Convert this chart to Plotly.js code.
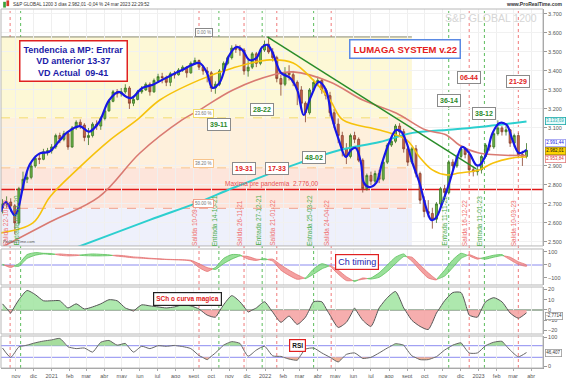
<!DOCTYPE html>
<html><head><meta charset="utf-8">
<script src="https://cdn.plot.ly/plotly-3.0.1.min.js"></script>
<style>html,body{margin:0;padding:0;background:#fff}#c{width:567px;height:378px}</style>
</head><body><div id="c"></div>
<script>
// ---------- DATA ----------
const candleStart = '2020-10-09';   // weekly bars
const firstOpen = 2680;
const closeV = [2700,2710,2690,2600,2780,2830,2840,2900,2940,2935,
2975,2980,3000,3060,3040,3070,3000,3100,3130,3115,
3050,3060,3120,3110,3150,3190,3240,3290,3280,3290,
3310,3230,3250,3290,3300,3330,3290,3350,3370,3365,
3340,3385,3380,3405,3420,3390,3440,3455,3420,3400,
3390,3310,3330,3400,3440,3470,3520,3515,3510,3400,
3420,3490,3440,3510,3540,3500,3470,3360,3330,3390,
3380,3340,3300,3230,3180,3300,3340,3350,3300,3270,
3180,3120,3060,2990,2950,3060,3040,2930,2780,2850,
2820,2860,2830,2920,3010,3030,3110,3080,2990,2920,
2990,2860,2720,2660,2650,2620,2700,2780,2760,2920,
2900,2950,2990,2960,2880,2870,2880,2950,3010,3000,
3070,3100,3080,3090,3020,3060,2960,2950,2982];
const highV = [2725,2740,2730,2700,2790,2870,2870,2915,2955,2965,
2990,2995,3015,3070,3075,3085,3080,3110,3140,3145,
3125,3100,3130,3140,3160,3200,3250,3300,3305,3310,
3330,3320,3270,3300,3320,3340,3340,3360,3385,3390,
3375,3395,3400,3415,3430,3425,3450,3470,3460,3430,
3420,3400,3345,3410,3450,3480,3535,3540,3535,3520,
3460,3500,3500,3520,3560,3580,3520,3480,3380,3420,
3430,3400,3350,3320,3240,3310,3355,3370,3360,3310,
3290,3200,3150,3080,3020,3070,3080,3050,2940,2860,
2870,2875,2880,2930,3020,3050,3120,3125,3095,3000,
3000,3010,2870,2740,2720,2680,2710,2790,2800,2930,
2935,2960,3010,3000,2975,2895,2900,2960,3020,3030,
3080,3140,3110,3110,3095,3070,3075,2980,3020];
const lowV = [2650,2680,2660,2540,2590,2770,2810,2830,2890,2910,
2930,2955,2965,2990,3020,3030,2985,2995,3090,3095,
3030,3010,3050,3090,3090,3140,3185,3235,3260,3265,
3280,3200,3215,3245,3280,3295,3270,3285,3340,3335,
3320,3320,3360,3375,3395,3365,3385,3435,3405,3380,
3340,3290,3280,3320,3390,3430,3460,3495,3480,3380,
3370,3410,3420,3430,3500,3490,3450,3340,3270,3320,
3350,3320,3220,3200,3130,3170,3290,3320,3280,3250,
3160,3100,3020,2950,2910,2940,3020,2920,2760,2770,
2800,2800,2810,2820,2910,3000,3020,3060,2970,2900,
2910,2840,2700,2630,2630,2570,2600,2690,2720,2750,
2880,2890,2940,2940,2860,2845,2850,2860,2940,2980,
2990,3060,3060,3060,3000,3000,2940,2900,2940];

const blueDates = ['2020-10-06','2020-10-15','2020-10-30','2020-11-16','2020-11-25','2020-12-11','2020-12-28','2021-01-15','2021-01-27','2021-02-18','2021-03-06','2021-03-23','2021-04-09','2021-04-26','2021-05-08','2021-05-18','2021-06-05','2021-06-22','2021-07-09','2021-07-26','2021-08-12','2021-08-29','2021-09-11','2021-09-23','2021-10-03','2021-10-15','2021-11-01','2021-11-13','2021-11-23','2021-12-05','2021-12-17','2021-12-27','2022-01-05','2022-01-14','2022-01-28','2022-02-13','2022-02-25','2022-03-08','2022-03-20','2022-04-03','2022-04-15','2022-04-25','2022-05-07','2022-05-19','2022-05-28','2022-06-05','2022-06-14','2022-06-19','2022-06-28','2022-07-10','2022-07-20','2022-08-01','2022-08-13','2022-08-22','2022-08-31','2022-09-10','2022-09-22','2022-10-03','2022-10-12','2022-10-20','2022-10-31','2022-11-12','2022-11-24','2022-12-04','2022-12-16','2022-12-28','2023-01-03','2023-01-15','2023-01-25','2023-02-06','2023-02-18','2023-02-28','2023-03-11','2023-03-24'];
const blueVals = [2660,2710,2640,2830,2910,2965,2975,3035,3075,3110,3080,3130,3245,3290,3265,3258,3310,3326,3353,3380,3405,3432,3442,3395,3311,3337,3484,3526,3511,3458,3468,3526,3537,3495,3390,3363,3300,3168,3263,3342,3300,3158,3037,2947,2984,2995,2916,2811,2789,2811,2916,3021,3089,3079,3021,2916,2811,2684,2616,2626,2705,2811,2932,3000,2968,2905,2905,2968,3074,3126,3116,3037,2968,2985];

const yellowDates = ['2020-10-05','2020-11-30','2020-12-29','2021-02-13','2021-04-11','2021-05-27','2021-07-05','2021-09-11','2021-11-07','2022-01-09','2022-02-18','2022-03-24','2022-04-22','2022-05-14','2022-07-16','2022-08-31','2022-09-22','2022-10-14','2022-11-07','2022-11-29','2023-01-02','2023-01-26','2023-02-28','2023-03-24'];
const yellowVals = [2547,2600,2737,2879,3037,3142,3247,3353,3416,3458,3442,3353,3247,3142,3089,3037,2947,2879,2853,2863,2879,2916,2942,2947];

const redMaDates = ['2020-10-05','2020-12-29','2021-03-23','2021-06-01','2021-08-12','2021-09-11','2021-11-07','2022-01-14','2022-02-18','2022-04-22','2022-06-17','2022-08-13','2022-10-03','2022-11-07','2022-11-29','2023-01-02','2023-03-24'];
const redMaVals = [2468,2605,2737,2968,3142,3195,3300,3379,3395,3342,3247,3179,3089,3063,3010,2968,2955];

const cyanDates = ['2020-12-01','2021-02-01','2021-06-18','2021-09-11','2021-11-07','2022-03-01','2022-05-09','2022-07-16','2022-09-10','2022-11-07','2023-01-02','2023-03-24'];
const cyanVals = [2390,2458,2616,2711,2784,2916,2984,3026,3074,3089,3105,3134];

const trendDates = ['2022-01-05','2022-12-28'];
const trendVals = [3579,2885];

const preMax = 2776;
const fibHigh = 3579, fibLow = 1775;
const fibPcts = [0, 23.6, 38.2, 50, 61.8];
const fibEndDate = '2022-09-09';

const indStart = '2020-10-09'; // bi-weekly indicator samples
const chFast = [5,-20,10,80,95,90,88,75,70,72,80,85,82,78,68,62,55,52,48,45,42,40,38,30,-20,-50,-20,50,80,78,45,35,50,30,-40,-80,-110,-100,-30,10,-10,-70,-120,-120,-110,-100,-60,0,60,85,30,-40,-100,-115,-40,40,90,70,45,60,75,80,40,5,-10];
const chSlow = [0,-5,-10,50,75,85,80,85,80,78,72,70,70,72,75,70,62,58,52,48,44,42,40,36,10,-20,-35,10,45,70,65,45,40,45,0,-40,-75,-105,-70,-30,-5,-40,-90,-128,-100,-108,-95,-50,10,65,60,0,-60,-110,-85,-20,50,80,55,45,60,72,60,25,0];
const schVals = [6,-3,10,19,15,9,9,9,2,6,1,3,6,10,9,2,-1,5,4,3,2,3,5,4,1,-5,-7,5,14,8,-2,2,8,-2,-12,-6,-14,-7,8,8,-5,-17,-12,2,-10,-16,2,12,18,2,-10,-16,-19,-3,9,17,17,-5,-7,8,12,8,-3,-8,-2.77];
const rsiVals = [62,30,66,72,80,86,90,95,66,60,62,48,82,88,72,78,48,68,60,70,68,71,67,60,36,22,45,72,84,78,34,55,68,35,33,24,20,58,62,45,30,14,40,45,26,30,45,62,77,72,35,22,22,32,55,72,80,45,45,70,82,85,55,32,46.4];

const signalDates = ['2020-10-22','2020-11-09','2021-09-10','2021-10-14','2021-11-26','2021-12-27','2022-01-21','2022-03-25','2022-04-24','2022-11-11','2022-12-16','2023-01-11','2023-03-10'];
const signalTexts = ['Salida 22-10-20','Entrada 09-11-20','Salida 10-09-21','Entrada 14-10-21','Salida 26-11-21','Entrada 27-12-21','Salida 21-01-22','Entrada 25-03-22','Salida 24-04-22','Entrada 11-11-22','Salida 16-12-22','Entrada 11-01-23','Salida 10-03-23'];
const signalKinds = ['s','e','s','e','s','e','s','e','s','e','s','e','s'];

const scoreDates = ['2021-10-14','2021-12-27','2021-11-26','2022-01-21','2022-03-25','2022-11-11','2022-12-16','2023-01-11','2023-03-10'];
const scoreTexts = ['39-11','28-22','19-31','17-33','48-02','36-14','06-44','38-12','21-29'];
const scoreKinds = ['e','e','s','s','e','e','s','e','s'];

const monthLabels = ['nov','dic','2021','feb','mar','abr','may','jun','jul','ago','sept','oct','nov','dic','2022','feb','mar','abr','may','jun','jul','ago','sept','oct','nov','dic','2023','feb','mar','abr'];
const priceTicks = [2500,2600,2700,2800,2900,3100,3200,3300,3400,3500,3600,3700];

// ---------- helpers ----------
const DAY = 86400000;
function fmt(ms){const d=new Date(ms);const p=n=>String(n).padStart(2,'0');
  return d.getUTCFullYear()+'-'+p(d.getUTCMonth()+1)+'-'+p(d.getUTCDate())+' '+p(d.getUTCHours())+':'+p(d.getUTCMinutes());}
const wk = closeV.map((_,i)=>fmt(Date.parse(candleStart)+i*7*DAY));
const openV = closeV.map((c,i)=> i===0 ? firstOpen : closeV[i-1]);
const bwMs = chFast.map((_,i)=>Date.parse(indStart)+i*14*DAY);
const tickVals = monthLabels.map((_,i)=>{const d=new Date(Date.UTC(2020,10+i,1));return fmt(d.getTime());});

function insertCross(xs, ys, lvl){
  const X=[xs[0]], Y=[ys[0]];
  for(let i=1;i<xs.length;i++){
    const a=ys[i-1]-lvl, b=ys[i]-lvl;
    if(a*b<0){const t=a/(a-b); X.push(xs[i-1]+t*(xs[i]-xs[i-1])); Y.push(lvl);}
    X.push(xs[i]); Y.push(ys[i]);
  }
  return {X,Y};
}
function bandRuns(xs, A, B){
  const runs=[]; let cur={s:A[0]-B[0]>=0, x:[xs[0]], a:[A[0]], b:[B[0]]};
  for(let i=1;i<xs.length;i++){
    const dp=A[i-1]-B[i-1], d=A[i]-B[i];
    if((dp>=0)!==(d>=0)){
      const t=dp/(dp-d); const xc=xs[i-1]+t*(xs[i]-xs[i-1]); const yc=A[i-1]+t*(A[i]-A[i-1]);
      cur.x.push(xc); cur.a.push(yc); cur.b.push(yc); runs.push(cur);
      cur={s:d>=0, x:[xc,xs[i]], a:[yc,A[i]], b:[yc,B[i]]};
    } else {cur.x.push(xs[i]); cur.a.push(A[i]); cur.b.push(B[i]);}
  }
  runs.push(cur); return runs;
}

// ---------- traces ----------
const traces = [];
traces.push({type:'candlestick', x:wk, open:openV, high:highV, low:lowV, close:closeV,
  increasing:{line:{color:'#3b7424',width:0.8}, fillcolor:'#6cb848'},
  decreasing:{line:{color:'#86402c',width:0.8}, fillcolor:'#c8644c'},
  whiskerwidth:0, hoverinfo:'skip', xaxis:'x', yaxis:'y'});
traces.push({x:cyanDates, y:cyanVals, mode:'lines', line:{color:'#2ccfcf', width:2, shape:'spline'}, xaxis:'x', yaxis:'y', hoverinfo:'skip'});
traces.push({x:redMaDates, y:redMaVals, mode:'lines', line:{color:'#d97a72', width:1.6, shape:'spline'}, xaxis:'x', yaxis:'y', hoverinfo:'skip'});
traces.push({x:yellowDates, y:yellowVals, mode:'lines', line:{color:'#f6c20c', width:1.6, shape:'spline'}, xaxis:'x', yaxis:'y', hoverinfo:'skip'});
traces.push({x:trendDates, y:trendVals, mode:'lines', line:{color:'#2a8c2a', width:1.5}, xaxis:'x', yaxis:'y', hoverinfo:'skip'});
traces.push({x:blueDates, y:blueVals, mode:'lines', line:{color:'#1616e6', width:2.2, shape:'spline', smoothing:1}, xaxis:'x', yaxis:'y', hoverinfo:'skip'});

// Ch timing band
bandRuns(bwMs, chFast, chSlow).forEach(r=>{
  const xs = r.x.concat(r.x.slice().reverse()).map(fmt);
  const ys = r.a.concat(r.b.slice().reverse());
  traces.push({x:xs, y:ys, mode:'lines', fill:'toself',
    fillcolor: r.s ? 'rgba(120,214,120,0.75)' : 'rgba(240,130,130,0.75)',
    line:{color: r.s ? '#5cc25c' : '#e57373', width:0.8, shape:'spline', smoothing:0.6},
    xaxis:'x', yaxis:'y2', hoverinfo:'skip'});
});

// SCh
const sc = insertCross(bwMs, schVals, 0);
const scX = sc.X.map(fmt);
traces.push({x:scX, y:sc.Y.map(v=>Math.max(v,0)), mode:'lines', fill:'tozeroy', fillcolor:'rgba(160,228,160,0.85)', line:{width:0, shape:'spline', smoothing:0.6}, xaxis:'x', yaxis:'y3', hoverinfo:'skip'});
traces.push({x:scX, y:sc.Y.map(v=>Math.min(v,0)), mode:'lines', fill:'tozeroy', fillcolor:'rgba(244,160,160,0.85)', line:{width:0, shape:'spline', smoothing:0.6}, xaxis:'x', yaxis:'y3', hoverinfo:'skip'});
traces.push({x:scX, y:sc.Y, mode:'lines', line:{color:'#555', width:1, shape:'spline', smoothing:0.6}, xaxis:'x', yaxis:'y3', hoverinfo:'skip'});

// RSI
const r1 = insertCross(bwMs, rsiVals, 70);
const r2 = insertCross(r1.X, r1.Y, 30);
const rX = r2.X.map(fmt);
traces.push({x:rX, y:rX.map(()=>70), mode:'lines', line:{width:0}, xaxis:'x', yaxis:'y4', hoverinfo:'skip'});
traces.push({x:rX, y:r2.Y.map(v=>Math.max(v,70)), mode:'lines', fill:'tonexty', fillcolor:'rgba(150,215,140,0.85)', line:{width:0, shape:'spline', smoothing:0.6}, xaxis:'x', yaxis:'y4', hoverinfo:'skip'});
traces.push({x:rX, y:rX.map(()=>30), mode:'lines', line:{width:0}, xaxis:'x', yaxis:'y4', hoverinfo:'skip'});
traces.push({x:rX, y:r2.Y.map(v=>Math.min(v,30)), mode:'lines', fill:'tonexty', fillcolor:'rgba(240,170,140,0.9)', line:{width:0, shape:'spline', smoothing:0.6}, xaxis:'x', yaxis:'y4', hoverinfo:'skip'});
traces.push({x:rX, y:r2.Y, mode:'lines', line:{color:'#666', width:1, shape:'spline', smoothing:0.6}, xaxis:'x', yaxis:'y4', hoverinfo:'skip'});

// ---------- layout ----------
const xStart = '2020-10-06 10:00', xEnd = '2023-04-21 05:00';
const D = {main:[0.340,1], ch:[0.2312,0.3315], sch:[0.0947,0.2256], rsi:[0,0.0891]};
const shapes = [];
const fibLv = fibPcts.map(p=>fibHigh-(fibHigh-fibLow)*p/100);
const bandCols = ['#fdf8d6','#fef0dc','#fde5db','#eef0fb'];
for(let i=0;i<4;i++) shapes.push({type:'rect', layer:'below', xref:'x', yref:'y', x0:xStart, x1:fibEndDate, y0:fibLv[i+1], y1:fibLv[i], fillcolor:bandCols[i], line:{width:0}});
shapes.push({type:'line', layer:'below', xref:'x', yref:'y', x0:xStart, x1:fibEndDate, y0:fibLv[0], y1:fibLv[0], line:{color:'#8a8a72', width:1}});
const fibLineCols = ['#f3dc6a','#f7c48c','#f0a08c'];
for(let i=1;i<4;i++) shapes.push({type:'line', layer:'below', xref:'x', yref:'y', x0:xStart, x1:fibEndDate, y0:fibLv[i], y1:fibLv[i], line:{color:fibLineCols[i-1], width:1, dash:'dash'}});
shapes.push({type:'line', layer:'below', xref:'x', yref:'y', x0:xStart, x1:xEnd, y0:preMax, y1:preMax, line:{color:'#e01818', width:1.3}});
signalDates.forEach((d,i)=>shapes.push({type:'line', layer:'below', xref:'x', yref:'paper', x0:d, x1:d, y0:0, y1:1,
  line:{color: signalKinds[i]==='s' ? '#f07a7a' : '#5cbc5c', width:1, dash:'dot'}}));
shapes.push({type:'line', layer:'below', xref:'x', yref:'y2', x0:xStart, x1:xEnd, y0:0, y1:0, line:{color:'#8c8cf0', width:1.2}});
shapes.push({type:'line', layer:'below', xref:'x', yref:'y3', x0:xStart, x1:xEnd, y0:0, y1:0, line:{color:'#4f6f4f', width:1.2}});
shapes.push({type:'line', layer:'below', xref:'x', yref:'y4', x0:xStart, x1:xEnd, y0:70, y1:70, line:{color:'#8c8cf0', width:1}});
shapes.push({type:'line', layer:'below', xref:'x', yref:'y4', x0:xStart, x1:xEnd, y0:30, y1:30, line:{color:'#8c8cf0', width:1}});
Object.values(D).forEach(dm=>shapes.push({type:'rect', xref:'paper', yref:'paper', x0:0, x1:1, y0:dm[0], y1:dm[1], line:{color:'#b8b8b8', width:1}}));
// header icon
shapes.push({type:'rect', xref:'paper', yref:'paper', x0:0.004, x1:0.009, y0:1.004, y1:1.02, fillcolor:'#3aa23a', line:{width:0}});
shapes.push({type:'rect', xref:'paper', yref:'paper', x0:0.010, x1:0.015, y0:1.008, y1:1.024, fillcolor:'#d23a2a', line:{width:0}});

const ann = [];
const F = 'Arial, "Liberation Sans", sans-serif';
ann.push({xref:'paper', yref:'paper', x:0.018, y:1.0, xanchor:'left', yanchor:'bottom', showarrow:false,
  text:'S&P GLOBAL 1200 3 días 2.982,01 -0,04 % 24 mar 2023 22:29:52', font:{family:F, size:4.6, color:'#333'}});
ann.push({xref:'paper', yref:'paper', x:1.04, y:1.0, xanchor:'right', yanchor:'bottom', showarrow:false,
  text:'<b>www.ProRealTime.com</b>', font:{family:F, size:5, color:'#333'}});
ann.push({xref:'paper', yref:'paper', x:0.992, y:0.998, xanchor:'right', yanchor:'top', showarrow:false,
  text:'S&P GLOBAL 1200', font:{family:F, size:10.5, color:'#d6d6d6'}});
ann.push({xref:'x', yref:'y', x:'2021-02-08', y:3453, showarrow:false, align:'center',
  text:'<b>Tendencia a MP: Entrar<br>VD anterior 13-37<br>VD Actual  09-41</b>', font:{family:F, size:9, color:'#1c1ca8'},
  bgcolor:'#ffffff', bordercolor:'#e02020', borderwidth:1.5, borderpad:3});
ann.push({xref:'x', yref:'y', x:'2022-08-28', y:3513, showarrow:false,
  text:'<b>LUMAGA SYSTEM v.22</b>', font:{family:F, size:9.5, color:'#e42020'},
  bgcolor:'#ffffff', bordercolor:'#5b8ae4', borderwidth:1.5, borderpad:3});
const scoreY = [3116,3195,2884,2889,2947,3242,3363,3174,3347];
scoreDates.forEach((d,i)=>ann.push({xref:'x', yref:'y', x:d, y:scoreY[i], showarrow:false,
  text:'<b>'+scoreTexts[i]+'</b>', font:{family:F, size:7, color: scoreKinds[i]==='e' ? '#2a8a2a' : '#e02020'},
  bgcolor:'#ffffff', bordercolor:'#8a8a8a', borderwidth:1, borderpad:2}));
signalDates.forEach((d,i)=>ann.push({xref:'x', yref:'paper', x:d, y:D.main[0], xshift:-4, yshift:-2, textangle:-90,
  xanchor:'center', yanchor:'bottom', showarrow:false, text:signalTexts[i],
  font:{family:F, size:6.5, color: signalKinds[i]==='s' ? '#f07070' : '#4cae4c'}}));
ann.push({xref:'x', yref:'y', x:'2021-10-21', y:preMax, yanchor:'bottom', xanchor:'left', showarrow:false,
  text:'Maxima pre pandemia  2.776,00', font:{family:F, size:6.5, color:'#e85050'}});
const fibTxt = ['0.00 %','23.60 %','38.20 %','50.00 %'];
const fibBorder = ['#888','#f3dc6a','#f7c48c','#f0a08c'];
for(let i=0;i<4;i++) ann.push({xref:'x', yref:'y', x:'2021-09-18', y:fibLv[i], yanchor:'bottom', showarrow:false,
  text:fibTxt[i], font:{family:F, size:4.5, color:'#777'}, bgcolor:'#ffffff', bordercolor:fibBorder[i], borderwidth:1, borderpad:1});
ann.push({xref:'x', yref:'y2', x:'2022-06-07', y:20, showarrow:false, text:'Ch timing',
  font:{family:F, size:9, color:'#2424b0'}, bgcolor:'#ffffff', bordercolor:'#e02020', borderwidth:1.2, borderpad:2});
ann.push({xref:'x', yref:'y3', x:'2021-08-22', y:11, showarrow:false, text:'<b>SCh o curva magica</b>',
  font:{family:F, size:6.5, color:'#e02020'}, bgcolor:'#ffffff', bordercolor:'#222', borderwidth:1.2, borderpad:2});
ann.push({xref:'x', yref:'y4', x:'2022-02-26', y:69, showarrow:false, text:'<b>RSI</b>',
  font:{family:F, size:6.5, color:'#111'}, bgcolor:'#ffffff', bordercolor:'#e02020', borderwidth:1.2, borderpad:2});
ann.push({xref:'paper', yref:'paper', x:0.0, y:D.main[0], xanchor:'left', yanchor:'bottom', showarrow:false,
  text:'ProRealTime.com', font:{family:F, size:4, color:'#555'}});
// right side value tags
const tag = (yref,y,txt,col,bg,bc)=>ann.push({xref:'paper', yref:yref, x:1, y:y, xanchor:'left', xshift:2, showarrow:false,
  text:txt, font:{family:F, size:4.5, color:col}, bgcolor:bg, bordercolor:bc, borderwidth:0.8, borderpad:0.5});
tag('y',3134,'3.133,69','#1aa8a8','#e6fbfb','#1aa8a8');
tag('y',3020,'2.991,44','#1616e6','#ffffff','#9a9af0');
tag('y',2978,'2.982,01','#111','#ffd400','#b09000');
tag('y',2936,'2.953,84','#e03030','#ffffff','#e08080');
tag('y3',-6,'-2,7714','#333','#ffffff','#999');
tag('y4',46.4,'46,407','#333','#ffffff','#999');

const yBase = {side:'right', showline:true, linecolor:'#9a9a9a', ticks:'outside', ticklen:3, tickcolor:'#9a9a9a',
  tickfont:{family:F, size:5.5, color:'#555'}, showgrid:true, gridcolor:'#f1f1f1', zeroline:false, fixedrange:true};
const layout = {
  width:567, height:378, margin:{l:1, r:24, t:9, b:10},
  paper_bgcolor:'#ffffff', plot_bgcolor:'#ffffff', separators:',.', showlegend:false,
  font:{family:F, size:6, color:'#444'},
  xaxis:{type:'date', range:[xStart,xEnd], anchor:'y4', tickmode:'array', tickvals:tickVals, ticktext:monthLabels,
    tickfont:{family:F, size:5.5, color:'#555'}, ticks:'outside', ticklen:2, tickcolor:'#aaa',
    showgrid:true, gridcolor:'#efefef', showline:true, linecolor:'#9a9a9a', rangeslider:{visible:false}, fixedrange:true},
  yaxis:Object.assign({}, yBase, {domain:D.main, range:[2479,3726], tickvals:priceTicks, tickformat:',.0f'}),
  yaxis2:Object.assign({}, yBase, {domain:D.ch, range:[-154,123], tickvals:[-100,0,100], showgrid:false}),
  yaxis3:Object.assign({}, yBase, {domain:D.sch, range:[-23.4,22.4], tickvals:[-20,-10,0,10,20], showgrid:false}),
  yaxis4:Object.assign({}, yBase, {domain:D.rsi, range:[-6.9,103.4], tickvals:[0,100], showgrid:false}),
  shapes:shapes, annotations:ann
};
Plotly.newPlot('c', traces, layout, {displayModeBar:false, staticPlot:true});
</script></body></html>
